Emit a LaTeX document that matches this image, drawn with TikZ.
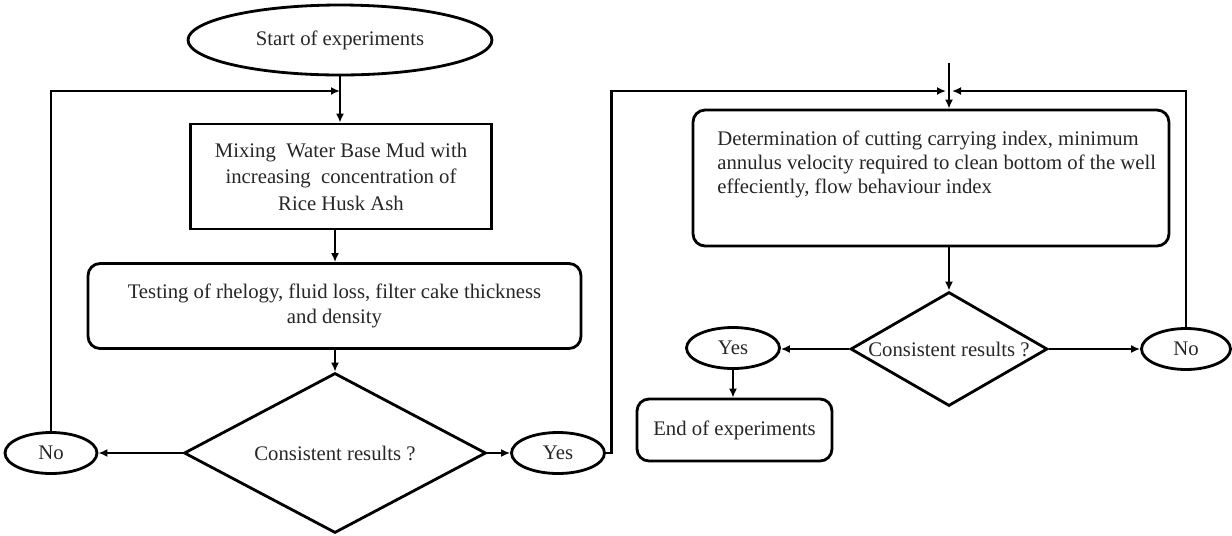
\documentclass[tikz,border=0pt]{standalone}
\usepackage{fontspec}
\setmainfont{Liberation Serif}
\usetikzlibrary{shapes.geometric,arrows.meta}
\begin{document}
\begin{tikzpicture}[x=0.02cm,y=-0.02cm,
  every node/.style={font=\fontsize{11.8}{14.2}\selectfont, text=black!85},
  line/.style={draw=black, line width=1.6pt},
  arr/.style={line, -{Latex[length=1.8mm,width=1.6mm]}},
  oval/.style={line, ellipse, inner sep=0pt},
  plainbox/.style={line, rectangle, inner sep=0pt, align=center},
  roundbox/.style={line, rectangle, rounded corners=2.4mm, inner sep=0pt, align=center},
  decision/.style={line, diamond, inner sep=0pt},
  caption/.style={inner sep=0pt}]
\useasboundingbox (0,0) rectangle (1232,535);

% left column
\node[oval, minimum width=60.8mm, minimum height=14mm] (start) at (340,40) {Start of experiments};
\node[plainbox, minimum width=60.2mm, minimum height=21mm,
      font=\fontsize{11.8}{15.1}\selectfont] (mix) at (341,176.5)
  {Mixing\ \ Water Base Mud with\\increasing\ \ concentration of\\Rice Husk Ash};
\node[roundbox, minimum width=98.6mm, minimum height=17mm] (test) at (334.5,306)
  {Testing of rhelogy, fluid loss, filter cake thickness\\and density};
\node[decision, minimum width=60.4mm, minimum height=32mm, aspect=1.89] (dia1) at (335,453) {};
\node[caption] (q1) at (dia1.center) {Consistent results ?};
\node[oval, minimum width=18.4mm, minimum height=8.2mm] (no1) at (51,453) {No};
\node[oval, minimum width=18.6mm, minimum height=8.2mm] (yes1) at (558,453) {Yes};

% right column
\node[roundbox, minimum width=95.2mm, minimum height=27.2mm] (rbox) at (931,178) {};
\node[anchor=north west, align=left, inner sep=0pt,
      font=\fontsize{11.8}{13.4}\selectfont] (rtext) at (717,131)
  {Determination of cutting carrying index, minimum\\
   annulus velocity required to clean bottom of the well\\
   effeciently, flow behaviour index};
\node[decision, minimum width=39.4mm, minimum height=22.8mm, aspect=1.73] (dia2) at (949,349) {};
\node[caption] (q2) at (dia2.center) {Consistent results ?};
\node[oval, minimum width=18.6mm, minimum height=8.2mm] (yes2) at (733,348) {Yes};
\node[oval, minimum width=17.8mm, minimum height=8.2mm] (no2) at (1186,349) {No};
\node[roundbox, minimum width=39mm, minimum height=12.4mm] (end) at (734.5,430) {End of experiments};

% junction points
\coordinate (jl) at (340,91);
\coordinate (jrl) at (946,91);
\coordinate (jrr) at (952,91);
\coordinate (rtop) at (949,63);

% left connectors
\draw[arr] (start.south) -- (start.south |- mix.north);
\draw[arr] (no1.north) |- (jl);
\draw[arr] (mix.south -| dia1.north) -- (test.north -| dia1.north);
\draw[arr] (test.south -| dia1.north) -- (dia1.north);
\draw[arr] (dia1.west) -- (no1.east |- dia1.west);
\draw[arr] (dia1.east) -- (yes1.west |- dia1.east);
\draw[arr] (yes1.east) -- ++(6,0) |- (jrl);

% right connectors
\draw[arr] (rtop) -- (rtop |- rbox.north);
\draw[arr] (rbox.south -| dia2.north) -- (dia2.north);
\draw[arr] (dia2.west) -- (yes2.east |- dia2.west);
\draw[arr] (dia2.east) -- (no2.west |- dia2.east);
\draw[arr] (yes2.south) -- (end.north -| yes2.south);
\draw[arr] (no2.north) |- (jrr);
\end{tikzpicture}
\end{document}
